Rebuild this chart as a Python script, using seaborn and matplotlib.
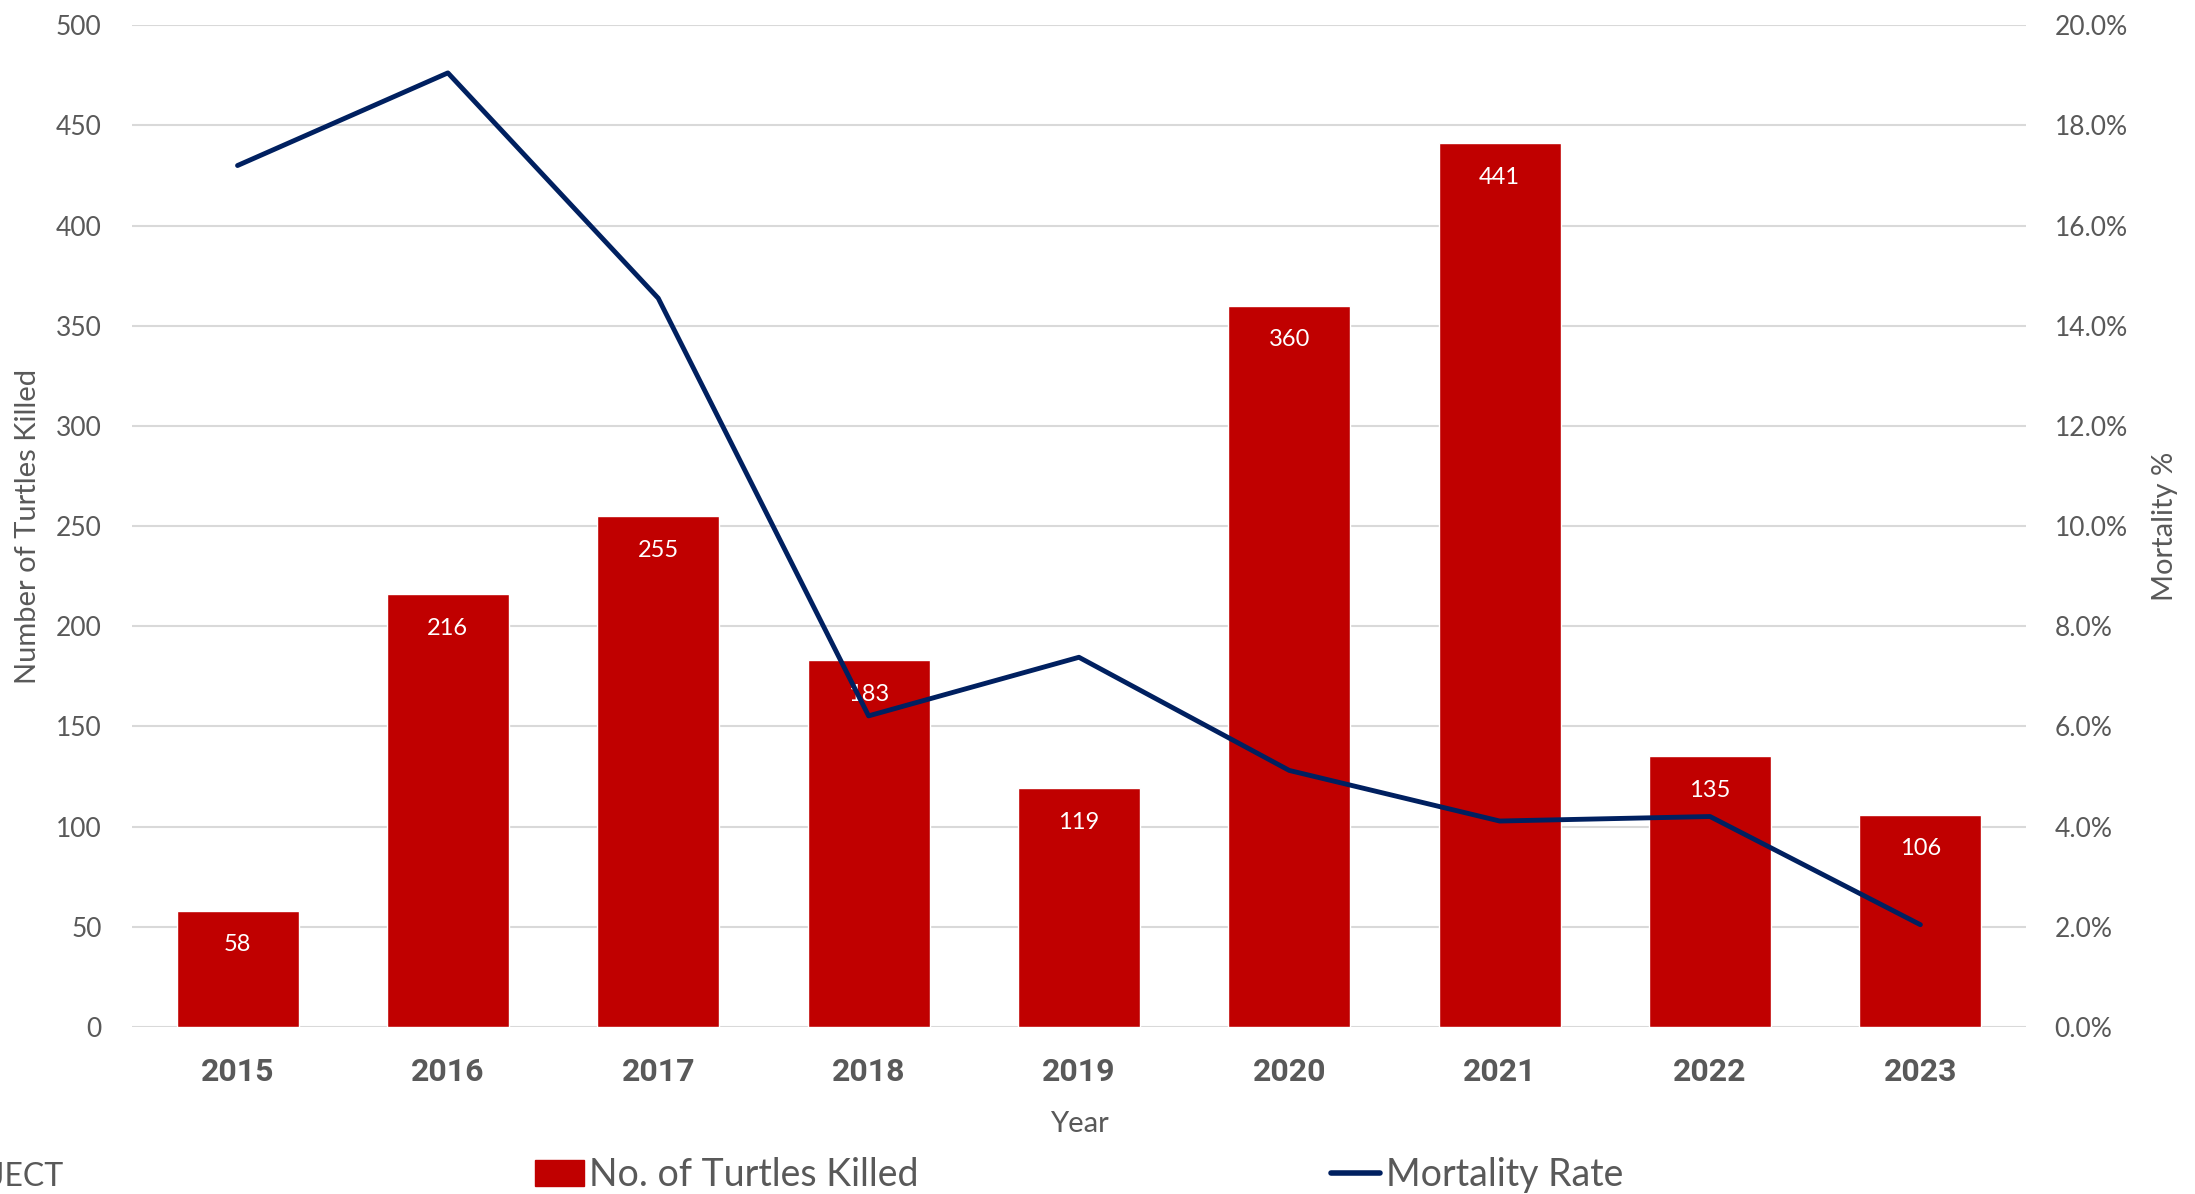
import numpy as np
import pandas as pd
import matplotlib
matplotlib.use("Agg")
import matplotlib.pyplot as plt
import seaborn as sns
from matplotlib.patches import Patch
from matplotlib.lines import Line2D
from matplotlib.ticker import FuncFormatter, MultipleLocator

years = ["2015", "2016", "2017", "2018", "2019", "2020", "2021", "2022", "2023"]
turtles_killed = [58, 216, 255, 183, 119, 360, 441, 135, 106]
mortality_pct = [17.2, 19.05, 14.55, 6.21, 7.38, 5.12, 4.11, 4.20, 2.04]

BAR = "#C00000"
LINE = "#002060"
TXT = "#595959"
GRID = "#D9D9D9"

sns.set_theme(style="white")
plt.rcParams["font.family"] = ["Lato", "DejaVu Sans"]
plt.rcParams["font.weight"] = "normal"

fig = plt.figure(figsize=(21.95, 11.94), dpi=100)
ax = fig.add_axes([0.0603, 0.1400, 0.8625, 0.8388])

df = pd.DataFrame({"Year": years, "Killed": turtles_killed, "Mort": mortality_pct})
sns.barplot(data=df, x="Year", y="Killed", color=BAR, saturation=1, width=0.58, ax=ax, zorder=2)
ax.set_ylim(0, 500)
ax.yaxis.set_major_locator(MultipleLocator(50))
ax.grid(axis="y", color=GRID, linewidth=1.5, zorder=0)
ax.set_axisbelow(True)
for s in ax.spines.values():
    s.set_visible(False)
ax.tick_params(axis="both", length=0)
ax.tick_params(axis="y", pad=22, labelsize=19, labelcolor=TXT)
ax.tick_params(axis="x", pad=22, labelsize=23, labelcolor=TXT)
for t in ax.get_yticklabels():
    t.set_fontweight("normal")
for t in ax.get_xticklabels():
    t.set_fontfamily(["Roboto", "DejaVu Sans"])
    t.set_fontweight("bold")
ax.set_xlim(-0.5, len(years) - 0.5)

ax.bar_label(ax.containers[0], labels=[str(v) for v in turtles_killed],
             padding=-32, color="white", fontsize=17, fontweight="normal", zorder=5)

ax.set_xlabel("Year", fontsize=21, color=TXT)
ax.xaxis.set_label_coords(0.5, -0.084)
ax.set_ylabel("Number of Turtles Killed", fontsize=21, color=TXT)
ax.yaxis.set_label_coords(-0.048, 0.5)

ax2 = ax.twinx()
df["pos"] = np.arange(len(years))
sns.lineplot(data=df, x="pos", y="Mort", color=LINE, linewidth=3.5, ax=ax2, zorder=3)
ax2.set_ylim(0, 20)
ax2.yaxis.set_major_locator(MultipleLocator(2))
ax2.yaxis.set_major_formatter(FuncFormatter(lambda v, p: f"{v:.1f}%"))
ax2.grid(False)
for s in ax2.spines.values():
    s.set_visible(False)
ax2.tick_params(axis="y", length=0, pad=21, labelsize=19, labelcolor=TXT)
ax2.set_ylabel("Mortality %", fontsize=21, color=TXT)
ax2.yaxis.set_label_coords(1.067, 0.5)
ax2.set_xlabel("")
ax2.set_xlim(-0.5, len(years) - 0.5)

handles = [Patch(facecolor=BAR, edgecolor=BAR),
           Line2D([0], [0], color=LINE, linewidth=4)]
leg = fig.legend(handles, ["No. of Turtles Killed", "Mortality Rate"], ncol=2,
                 loc="center", bbox_to_anchor=(0.4915, 0.016), frameon=False,
                 fontsize=27, handlelength=1.3, handletextpad=0.15,
                 columnspacing=11.0, borderpad=0)
for t in leg.get_texts():
    t.set_color(TXT)

fig.text(45 / 1560, 0.014, "PROJECT", ha="right", va="center", fontsize=23, color=TXT)

fig.savefig("out.png", dpi=100)
